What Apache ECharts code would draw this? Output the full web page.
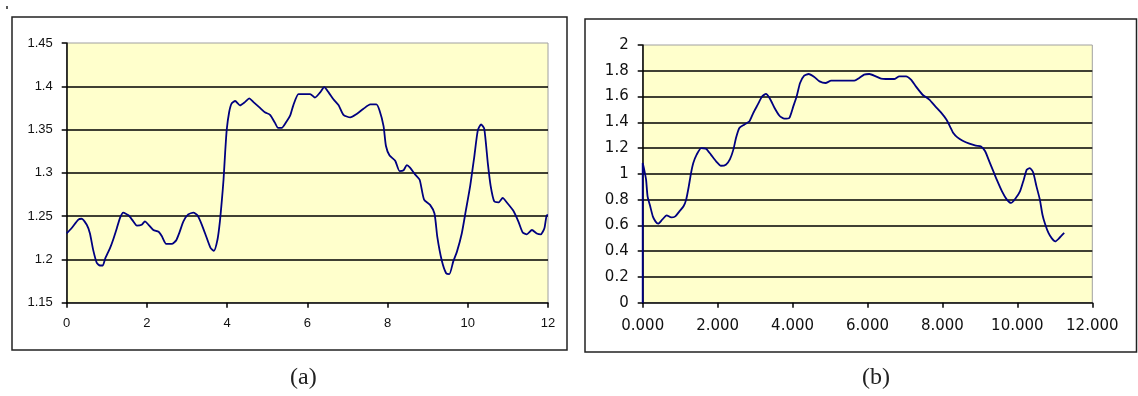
<!DOCTYPE html>
<html>
<head>
<meta charset="utf-8">
<script src="https://cdn.jsdelivr.net/npm/echarts@6/dist/echarts.min.js"></script>
<style>
  html, body { margin: 0; padding: 0; background: #ffffff; }
  #chart { width: 1138px; height: 396px; }
</style>
</head>
<body>
<div id="chart"></div>
<script>
// Panel (a): signal over 0..12
const xA = [0, 0.12, 0.29, 0.37, 0.5, 0.58, 0.66, 0.75, 0.83, 0.9, 0.96, 1.08, 1.16, 1.25, 1.33, 1.41,
  1.54, 1.66, 1.75, 1.87, 1.95, 2.04, 2.16, 2.29, 2.37, 2.48, 2.62, 2.73, 2.81, 2.91, 3.03, 3.16,
  3.26, 3.37, 3.49, 3.59, 3.67, 3.76, 3.82, 3.87, 3.91, 3.95, 3.99, 4.05, 4.11, 4.2, 4.32, 4.45,
  4.55, 4.65, 4.82, 4.94, 5.07, 5.19, 5.27, 5.36, 5.49, 5.57, 5.65, 5.78, 5.98, 6.07, 6.19, 6.32,
  6.42, 6.53, 6.65, 6.78, 6.9, 7.07, 7.23, 7.4, 7.57, 7.72, 7.8, 7.9, 7.96, 8.05, 8.19, 8.3,
  8.4, 8.48, 8.56, 8.69, 8.8, 8.91, 9.06, 9.17, 9.24, 9.35, 9.46, 9.54, 9.64, 9.73, 9.85, 9.95,
  10.06, 10.16, 10.25, 10.33, 10.41, 10.5, 10.57, 10.66, 10.77, 10.87, 10.97, 11.14, 11.26, 11.37,
  11.47, 11.6, 11.72, 11.82, 11.91, 11.97, 12];
const yA = [1.230, 1.236, 1.246, 1.247, 1.240, 1.230, 1.211, 1.196, 1.193, 1.193, 1.201, 1.213, 1.223,
  1.236, 1.248, 1.254, 1.251, 1.244, 1.239, 1.240, 1.244, 1.240, 1.234, 1.232, 1.227, 1.218, 1.218,
  1.222, 1.231, 1.244, 1.252, 1.254, 1.251, 1.240, 1.225, 1.213, 1.210, 1.223, 1.244, 1.269, 1.292,
  1.323, 1.350, 1.370, 1.380, 1.383, 1.378, 1.382, 1.386, 1.382, 1.375, 1.370, 1.367, 1.358, 1.352,
  1.352, 1.360, 1.366, 1.378, 1.391, 1.391, 1.391, 1.387, 1.393, 1.399, 1.393, 1.385, 1.378, 1.367,
  1.364, 1.368, 1.374, 1.379, 1.379, 1.372, 1.354, 1.331, 1.320, 1.314, 1.302, 1.303, 1.309, 1.306,
  1.298, 1.292, 1.269, 1.263, 1.253, 1.226, 1.199, 1.184, 1.183, 1.198, 1.209, 1.230, 1.256, 1.285,
  1.318, 1.349, 1.356, 1.351, 1.311, 1.285, 1.267, 1.266, 1.271, 1.266, 1.256, 1.244, 1.231, 1.229,
  1.234, 1.230, 1.229, 1.236, 1.251, 1.251];

// Panel (b): signal over 0..~11.2
const xB = [0, 0, 0.04, 0.09, 0.13, 0.2, 0.27, 0.34, 0.41, 0.52, 0.64, 0.76, 0.87, 0.98, 1.09, 1.16,
  1.23, 1.29, 1.35, 1.44, 1.56, 1.69, 1.82, 1.96, 2.09, 2.22, 2.33, 2.42, 2.49, 2.58, 2.71, 2.85,
  2.95, 3.07, 3.19, 3.29, 3.4, 3.52, 3.65, 3.78, 3.91, 4.02, 4.11, 4.2, 4.31, 4.43, 4.58, 4.72,
  4.88, 5.03, 5.34, 5.65, 5.78, 5.91, 6.05, 6.22, 6.36, 6.49, 6.71, 6.85, 7.03, 7.16, 7.29, 7.47,
  7.65, 7.81, 7.96, 8.11, 8.2, 8.29, 8.4, 8.54, 8.72, 8.89, 9.03, 9.14, 9.25, 9.36, 9.45, 9.59,
  9.72, 9.83, 9.94, 10.07, 10.17, 10.25, 10.33, 10.42, 10.51, 10.6, 10.67, 10.74, 10.83, 10.92,
  11.01, 11.12, 11.25];
const yB = [0, 1.084, 1.032, 0.955, 0.825, 0.748, 0.670, 0.631, 0.613, 0.644, 0.678, 0.662, 0.670,
  0.709, 0.748, 0.800, 0.903, 1.006, 1.084, 1.149, 1.200, 1.195, 1.149, 1.097, 1.063, 1.071, 1.115,
  1.188, 1.278, 1.356, 1.382, 1.408, 1.472, 1.537, 1.602, 1.620, 1.581, 1.511, 1.451, 1.428, 1.433,
  1.524, 1.602, 1.705, 1.762, 1.775, 1.752, 1.718, 1.705, 1.723, 1.723, 1.723, 1.744, 1.770, 1.775,
  1.757, 1.739, 1.736, 1.736, 1.757, 1.757, 1.731, 1.679, 1.614, 1.576, 1.524, 1.477, 1.420, 1.369,
  1.317, 1.283, 1.257, 1.234, 1.219, 1.213, 1.175, 1.097, 1.019, 0.955, 0.864, 0.800, 0.774, 0.805,
  0.864, 0.955, 1.032, 1.045, 1.012, 0.903, 0.800, 0.683, 0.611, 0.541, 0.499, 0.476, 0.502, 0.541];

// Axis ranges and tick steps
const ticksXA = [0, 2, 4, 6, 8, 10, 12];
const ticksYA = [1.15, 1.2, 1.25, 1.3, 1.35, 1.4, 1.45];
const ticksXB = [0, 2, 4, 6, 8, 10, 12];
const ticksYB = [0, 0.2, 0.4, 0.6, 0.8, 1, 1.2, 1.4, 1.6, 1.8, 2];

const captions = ['(a)', '(b)'];

const zip = (xs, ys) => xs.map((x, i) => [x, ys[i]]);

const TEXT = '#111';
const LINE = '#000080';

function xAxis(gridIndex, ticks, fmt, font) {
  return {
    type: 'value', gridIndex,
    min: ticks[0], max: ticks[ticks.length - 1], interval: ticks[1] - ticks[0],
    axisLine: { show: true, onZero: false, lineStyle: { color: '#000', width: 1.5 } },
    axisTick: { show: true, length: 5, lineStyle: { color: '#000', width: 1.5 } },
    axisLabel: { color: TEXT, fontFamily: font.family, fontSize: font.size, margin: font.xMargin, formatter: fmt },
    splitLine: { show: false }
  };
}

function yAxis(gridIndex, ticks, font) {
  return {
    type: 'value', gridIndex,
    min: ticks[0], max: ticks[ticks.length - 1], interval: +(ticks[1] - ticks[0]).toFixed(4),
    axisLine: { show: true, onZero: false, lineStyle: { color: '#000', width: 1.5 } },
    axisTick: { show: true, length: 5, lineStyle: { color: '#000', width: 1.5 } },
    axisLabel: { color: TEXT, fontFamily: font.family, fontSize: font.size, margin: font.yMargin,
      formatter: v => String(+v.toFixed(2)) },
    splitLine: { show: true, showMinLine: false, showMaxLine: false, lineStyle: { color: '#000', width: 1.6 } }
  };
}

const fontA = { family: '"Liberation Sans", Arial, sans-serif', size: 13, xMargin: 14, yMargin: 14 };
const fontB = { family: '"DejaVu Sans", Verdana, sans-serif', size: 15, xMargin: 16, yMargin: 14 };

const chart = echarts.init(document.getElementById('chart'), null, { renderer: 'canvas' });

chart.setOption({
  animation: false,
  backgroundColor: '#ffffff',
  grid: [
    { left: 66.7, top: 43, width: 481.3, height: 259.7, show: true, backgroundColor: '#FFFFCC',
      borderColor: '#a0a0a0', borderWidth: 1 },
    { left: 642.7, top: 45, width: 449.6, height: 257.7, show: true, backgroundColor: '#FFFFCC',
      borderColor: '#a0a0a0', borderWidth: 1 }
  ],
  xAxis: [
    xAxis(0, ticksXA, v => String(v), fontA),
    xAxis(1, ticksXB, v => v.toFixed(3), fontB)
  ],
  yAxis: [
    yAxis(0, ticksYA, fontA),
    yAxis(1, ticksYB, fontB)
  ],
  series: [
    { type: 'line', xAxisIndex: 0, yAxisIndex: 0, data: zip(xA, yA), showSymbol: false,
      smooth: 0.2, lineStyle: { color: LINE, width: 1.8 }, z: 5 },
    { type: 'line', xAxisIndex: 1, yAxisIndex: 1, data: zip(xB, yB), showSymbol: false,
      smooth: 0.2, lineStyle: { color: LINE, width: 1.8 }, z: 5 }
  ],
  graphic: [
    // chart-area frames
    { type: 'rect', shape: { x: 12, y: 17, width: 555, height: 333 },
      style: { fill: 'none', stroke: '#222', lineWidth: 1.5 }, z: -1 },
    { type: 'rect', shape: { x: 585, y: 19, width: 551.5, height: 333 },
      style: { fill: 'none', stroke: '#222', lineWidth: 1.5 }, z: -1 },
    // small mark at the top-left corner
    { type: 'line', shape: { x1: 7, y1: 6, x2: 7, y2: 9 }, style: { stroke: '#222', lineWidth: 1.5 } },
    // captions
    { type: 'text', left: 290, top: 366, style: { text: captions[0], font: '24px "Liberation Serif", "Times New Roman", serif', fill: '#222' } },
    { type: 'text', left: 862, top: 366, style: { text: captions[1], font: '24px "Liberation Serif", "Times New Roman", serif', fill: '#222' } }
  ]
});
</script>
</body>
</html>
